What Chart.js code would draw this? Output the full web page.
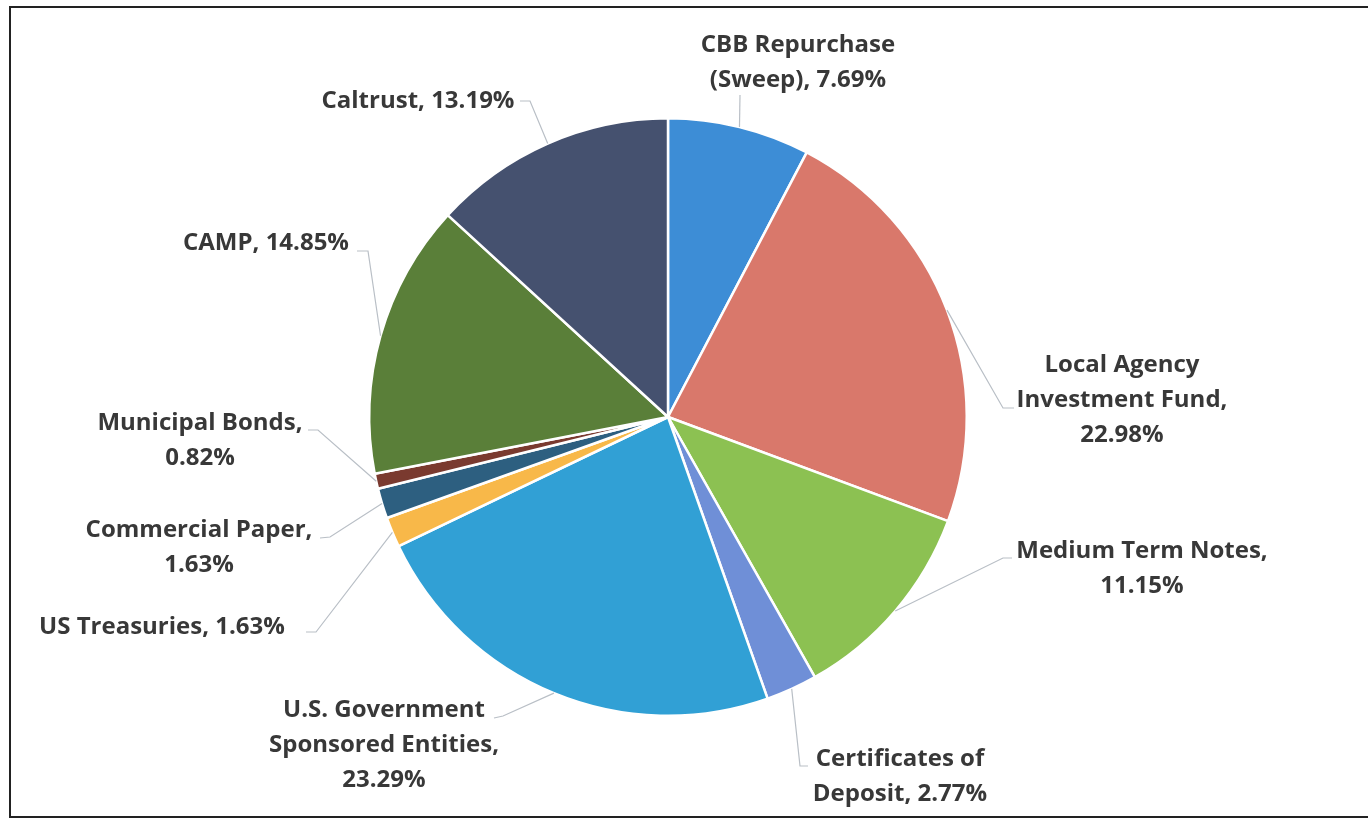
<!DOCTYPE html>
<html>
<head>
<meta charset="utf-8">
<script src="https://cdn.jsdelivr.net/npm/chart.js@4"></script>
<style>
  html, body { margin: 0; padding: 0; background: #fff; overflow: hidden; }
  #wrap { position: relative; width: 1368px; height: 820px; overflow: hidden; }
  #frame { position: absolute; left: 9px; top: 6px; width: 1500px; height: 812px; border: 2px solid #222; border-right: none; box-sizing: border-box; }
  canvas { position: absolute; left: 0; top: 0; }
</style>
</head>
<body>
<div id="wrap">
  <div id="frame"></div>
  <canvas id="pie" width="1368" height="820"></canvas>
</div>
<script>
// data, clockwise from 12 o'clock
const categories = ['CBB Repurchase (Sweep)', 'Local Agency Investment Fund', 'Medium Term Notes',
  'Certificates of Deposit', 'U.S. Government Sponsored Entities', 'US Treasuries',
  'Commercial Paper', 'Municipal Bonds', 'CAMP', 'Caltrust'];
const shares = [7.69, 22.98, 11.15, 2.77, 23.29, 1.63, 1.63, 0.82, 14.85, 13.19];
const colors = ['#3d8dd6', '#d9786b', '#8cc152', '#6f8fd7', '#31a0d5', '#f8b849',
  '#2d5f80', '#7a3a2f', '#5a7f39', '#45516f'];

// label text as wrapped in the picture
const labelLines = [
  ['CBB Repurchase', '(Sweep), 7.69%'],
  ['Local Agency', 'Investment Fund,', '22.98%'],
  ['Medium Term Notes,', '11.15%'],
  ['Certificates of', 'Deposit, 2.77%'],
  ['U.S. Government', 'Sponsored Entities,', '23.29%'],
  ['US Treasuries, 1.63%'],
  ['Commercial Paper,', '1.63%'],
  ['Municipal Bonds,', '0.82%'],
  ['CAMP, 14.85%'],
  ['Caltrust, 13.19%']
];

// where each label sits: text centre x, first line y, leader path end points
const labelPos = [
  { x: 798, y: 45, path: [[740, 95]] },
  { x: 1122, y: 365, path: [[1003, 408], [1014, 408]] },
  { x: 1142, y: 551, path: [[1003, 558], [1012, 558]] },
  { x: 900, y: 759, path: [[800, 766], [808, 766]] },
  { x: 384, y: 710, path: [[503, 716], [494, 718]] },
  { x: 162, y: 627, path: [[316, 632], [306, 632]] },
  { x: 199, y: 530, path: [[330, 537], [320, 538]] },
  { x: 200, y: 423, path: [[318, 430], [308, 430]] },
  { x: 266, y: 243, path: [[368, 251], [357, 251]] },
  { x: 418, y: 101, path: [[530, 101], [520, 101]] }
];

const outLabels = {
  id: 'outLabels',
  afterDatasetsDraw(chart) {
    const ctx = chart.ctx;
    const arcs = chart.getDatasetMeta(0).data;
    ctx.save();
    arcs.forEach(function (arc, i) {
      const mid = (arc.startAngle + arc.endAngle) / 2;
      const px = arc.x + Math.cos(mid) * arc.outerRadius;
      const py = arc.y + Math.sin(mid) * arc.outerRadius;
      const pos = labelPos[i];
      ctx.strokeStyle = '#b9bfc6';
      ctx.lineWidth = 1.2;
      ctx.beginPath();
      ctx.moveTo(px, py);
      pos.path.forEach(function (p) { ctx.lineTo(p[0], p[1]); });
      ctx.stroke();

      ctx.fillStyle = '#383838';
      ctx.font = 'bold 24px "Open Sans", Lato, sans-serif';
      ctx.textAlign = 'center';
      ctx.textBaseline = 'middle';
      labelLines[i].forEach(function (t, k) {
        ctx.fillText(t, pos.x, pos.y + k * 35);
      });
    });
    ctx.restore();
  }
};

new Chart(document.getElementById('pie'), {
  type: 'pie',
  data: {
    labels: categories,
    datasets: [{
      data: shares,
      backgroundColor: colors,
      borderColor: '#ffffff',
      borderWidth: 2.5
    }]
  },
  options: {
    responsive: false,
    animation: false,
    layout: { padding: { left: 368, right: 400, top: 117, bottom: 103 } },
    plugins: {
      legend: { display: false },
      tooltip: { enabled: false }
    }
  },
  plugins: [outLabels]
});
</script>
</body>
</html>
